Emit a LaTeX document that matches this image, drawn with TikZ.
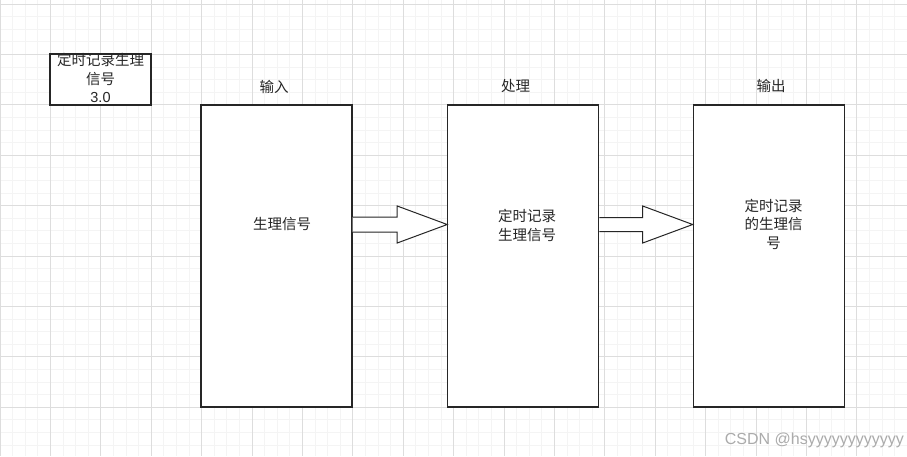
\documentclass[tikz,border=0pt]{standalone}
\usepackage{fontspec}
\newfontfamily\cjk{Noto Sans CJK SC}
\setsansfont{Liberation Sans}
\usetikzlibrary{calc, positioning}

\definecolor{minorGrid}{HTML}{F4F4F4}
\definecolor{majorGrid}{HTML}{DDDDDD}
\definecolor{borderColour}{HTML}{262626}
\definecolor{markColour}{HTML}{ABABAB}

\tikzset{
  stagebox/.style={draw=borderColour, line width=1.2pt, fill=white,
    minimum width=151pt, minimum height=302pt, inner sep=0pt},
  titlebox/.style={draw=borderColour, line width=1.1pt, fill=white,
    minimum width=101pt, minimum height=51pt, inner sep=0pt},
  cjktext/.style={font=\cjk\fontsize{14.5}{18.5}\selectfont, text=borderColour,
    align=center, inner sep=0pt},
  blockarrow/.style={draw=borderColour, line width=1pt, fill=white, line join=miter}
}

\begin{document}
\begin{tikzpicture}[x=1pt, y=-1pt]
  \useasboundingbox (0,0) rectangle (907,456);
  \fill[white] (0,0) rectangle (907,456);

  % Draw the grid
  \foreach \i in {0,...,72}
    \draw[minorGrid, line width=0.8pt] (\i*12.6,0) -- (\i*12.6,456);
  \foreach \j in {0,...,36}
    \draw[minorGrid, line width=0.8pt] (0,4+\j*12.6) -- (907,4+\j*12.6);
  \foreach \i in {0,...,18}
    \draw[majorGrid, line width=1pt] (\i*50.4,0) -- (\i*50.4,456);
  \foreach \j in {0,...,9}
    \draw[majorGrid, line width=1pt] (0,4+\j*50.4) -- (907,4+\j*50.4);

  % Title box
  \node[titlebox] (title) at (100.5,79.5) {};
  \node[cjktext] (titletext) at ($(title.center)+(0,-1.5)$) {定时记录生理\\信号\\\sffamily 3.0};

  % Stage boxes
  \node[stagebox] (input) at (276.5,256) {};
  \node[stagebox] (proc) at (523.3,256) {};
  \node[stagebox] (output) at (768.8,256) {};

  % Headings
  \node[cjktext] (inputhead) at (274,86.5) {输入};
  \node[cjktext] (prochead) at (515.5,86) {处理};
  \node[cjktext] (outputhead) at (771,86) {输出};

  % Box texts
  \node[cjktext] (inputtext) at (282,224.5) {生理信号};
  \node[cjktext] (proctext) at (527,225.5) {定时记录\\生理信号};
  \node[cjktext] (outputtext) at (773.5,224) {定时记录\\的生理信\\号};

  % Block arrows between the boxes
  \coordinate (tipA) at (proc.west |- 0,224.5);
  \draw[blockarrow] (input.east |- 0,217) -- ($(tipA)+(-50,-7.5)$)
    -- ($(tipA)+(-50,-18.5)$) -- (tipA) -- ($(tipA)+(-50,18.5)$)
    -- ($(tipA)+(-50,7.5)$) -- (input.east |- 0,232);
  \coordinate (tipB) at (output.west |- 0,224.5);
  \draw[blockarrow] (proc.east |- 0,217.5) -- ($(tipB)+(-50,-7)$)
    -- ($(tipB)+(-50,-18.5)$) -- (tipB) -- ($(tipB)+(-50,18.5)$)
    -- ($(tipB)+(-50,7)$) -- (proc.east |- 0,231.5);

  % Watermark
  \node[font=\sffamily\fontsize{16}{18}\selectfont, text=markColour, anchor=east,
    inner sep=0pt] (mark) at (904,440.5) {CSDN @hsyyyyyyyyyyyy};
\end{tikzpicture}
\end{document}
